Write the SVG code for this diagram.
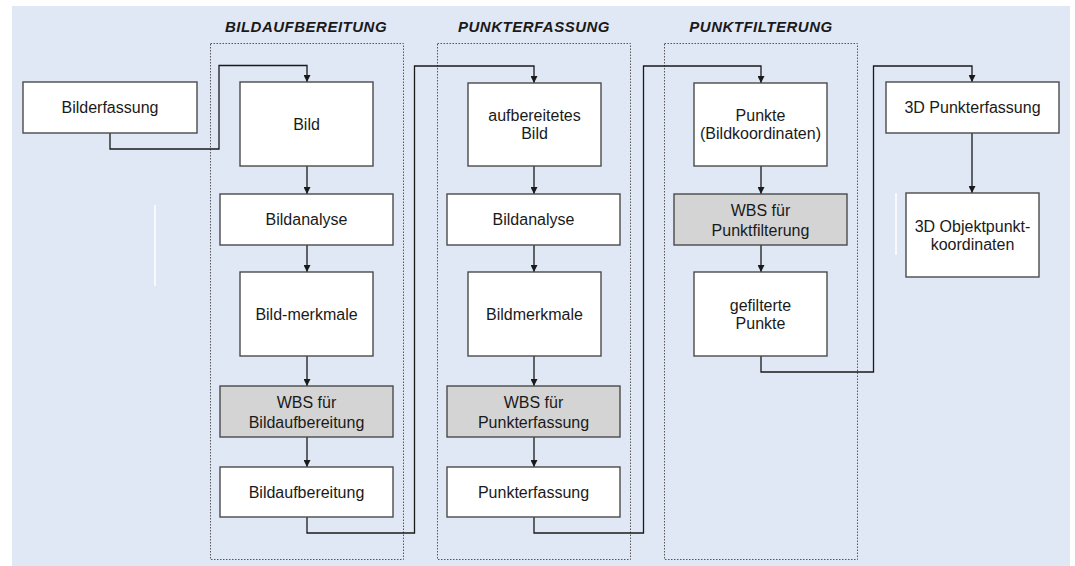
<svg xmlns="http://www.w3.org/2000/svg" width="1075" height="566" viewBox="0 0 1075 566">
<defs>
<marker id="arr" viewBox="0 0 10 10" markerUnits="userSpaceOnUse" markerWidth="10" markerHeight="7" refX="10" refY="5" orient="auto">
<path d="M0,0 L10,5 L0,10 z" fill="#1a1a1a"/>
</marker>
<style>
.bg{fill:#e1e8f5}
.box{fill:#ffffff;stroke:#4a4a4a;stroke-width:1.4}
.wbs{fill:#d4d4d4;stroke:#4a4a4a;stroke-width:1.4}
.grp{fill:none;stroke:#555;stroke-width:1;stroke-dasharray:1.5 1.5}
.t{font-family:"Liberation Sans",Arial,sans-serif;font-size:16px;fill:#1a1a1a;text-anchor:middle}
.h{font-family:"Liberation Sans",Arial,sans-serif;font-size:15px;font-weight:bold;font-style:italic;fill:#1a1a1a;text-anchor:middle;letter-spacing:0.5px}
.c{fill:none;stroke:#1a1a1a;stroke-width:1.3}
.w{stroke:#ffffff;stroke-width:1.5}
</style>
</defs>
<rect class="bg" x="12" y="6" width="1058" height="560"/>
<line class="w" x1="155" y1="205" x2="155" y2="286"/>
<line class="w" x1="896" y1="193" x2="896" y2="255"/>

<g id="grp-bildaufbereitung">
<rect class="grp" x="210.5" y="43.5" width="193" height="516"/>
<text class="h" x="306" y="32">BILDAUFBEREITUNG</text>
</g>
<g id="grp-punkterfassung">
<rect class="grp" x="437.5" y="43.5" width="193" height="516"/>
<text class="h" x="534" y="32">PUNKTERFASSUNG</text>
</g>
<g id="grp-punktfilterung">
<rect class="grp" x="664.5" y="43.5" width="193" height="516"/>
<text class="h" x="761" y="32">PUNKTFILTERUNG</text>
</g>

<g id="connectors">
<path class="c" d="M110,133 V149 H219 V65.5 H307 V82" marker-end="url(#arr)"/>
<path class="c" d="M307,166 V194" marker-end="url(#arr)"/>
<path class="c" d="M307,245 V272" marker-end="url(#arr)"/>
<path class="c" d="M307,356 V386" marker-end="url(#arr)"/>
<path class="c" d="M307,437 V467" marker-end="url(#arr)"/>
<path class="c" d="M307,517 V533 H414.5 V66 H534 V83" marker-end="url(#arr)"/>
<path class="c" d="M534,166 V194" marker-end="url(#arr)"/>
<path class="c" d="M534,245 V272" marker-end="url(#arr)"/>
<path class="c" d="M534,356 V386" marker-end="url(#arr)"/>
<path class="c" d="M534,437 V467" marker-end="url(#arr)"/>
<path class="c" d="M534,517 V533 H643.5 V66 H761 V83" marker-end="url(#arr)"/>
<path class="c" d="M761,166 V194" marker-end="url(#arr)"/>
<path class="c" d="M761,245 V272" marker-end="url(#arr)"/>
<path class="c" d="M761,356 V372 H873.5 V66 H972 V82" marker-end="url(#arr)"/>
<path class="c" d="M972,133 V193" marker-end="url(#arr)"/>
</g>

<g id="n-bilderfassung">
<rect class="box" x="23" y="82" width="174" height="51"/>
<text class="t" x="110" y="113">Bilderfassung</text>
</g>
<g id="n-bild">
<rect class="box" x="240" y="82" width="133" height="84"/>
<text class="t" x="306.5" y="130">Bild</text>
</g>
<g id="n-bildanalyse1">
<rect class="box" x="220" y="194" width="173" height="51"/>
<text class="t" x="306.5" y="225">Bildanalyse</text>
</g>
<g id="n-bildmerkmale1">
<rect class="box" x="240" y="272" width="133" height="84"/>
<text class="t" x="306.5" y="319.5">Bild-merkmale</text>
</g>
<g id="n-wbs-bild">
<rect class="wbs" x="220" y="386" width="173" height="51"/>
<text class="t" x="306.5" y="408">WBS für</text>
<text class="t" x="306.5" y="427.5">Bildaufbereitung</text>
</g>
<g id="n-bildaufbereitung">
<rect class="box" x="220" y="467" width="173" height="50"/>
<text class="t" x="306.5" y="497.5">Bildaufbereitung</text>
</g>

<g id="n-aufbereitetes-bild">
<rect class="box" x="468" y="83" width="133" height="83"/>
<text class="t" x="534.5" y="120.5">aufbereitetes</text>
<text class="t" x="534.5" y="139">Bild</text>
</g>
<g id="n-bildanalyse2">
<rect class="box" x="447" y="194" width="173" height="51"/>
<text class="t" x="533.5" y="225">Bildanalyse</text>
</g>
<g id="n-bildmerkmale2">
<rect class="box" x="468" y="272" width="133" height="84"/>
<text class="t" x="534.5" y="319.5">Bildmerkmale</text>
</g>
<g id="n-wbs-punkt">
<rect class="wbs" x="447" y="386" width="173" height="51"/>
<text class="t" x="533.5" y="408">WBS für</text>
<text class="t" x="533.5" y="427.5">Punkterfassung</text>
</g>
<g id="n-punkterfassung">
<rect class="box" x="447" y="467" width="173" height="50"/>
<text class="t" x="533.5" y="497.5">Punkterfassung</text>
</g>

<g id="n-punkte">
<rect class="box" x="694" y="83" width="133" height="83"/>
<text class="t" x="760.5" y="120.5">Punkte</text>
<text class="t" x="760.5" y="139">(Bildkoordinaten)</text>
</g>
<g id="n-wbs-filter">
<rect class="wbs" x="674" y="194" width="173" height="51"/>
<text class="t" x="760.5" y="216">WBS für</text>
<text class="t" x="760.5" y="235.5">Punktfilterung</text>
</g>
<g id="n-gefilterte">
<rect class="box" x="694" y="272" width="133" height="84"/>
<text class="t" x="760.5" y="311">gefilterte</text>
<text class="t" x="760.5" y="329">Punkte</text>
</g>

<g id="n-3d-punkterfassung">
<rect class="box" x="886" y="82" width="173" height="51"/>
<text class="t" x="972.5" y="113">3D Punkterfassung</text>
</g>
<g id="n-3d-objekt">
<rect class="box" x="906" y="193" width="133" height="84"/>
<text class="t" x="972.5" y="232">3D Objektpunkt-</text>
<text class="t" x="972.5" y="250">koordinaten</text>
</g>
</svg>
